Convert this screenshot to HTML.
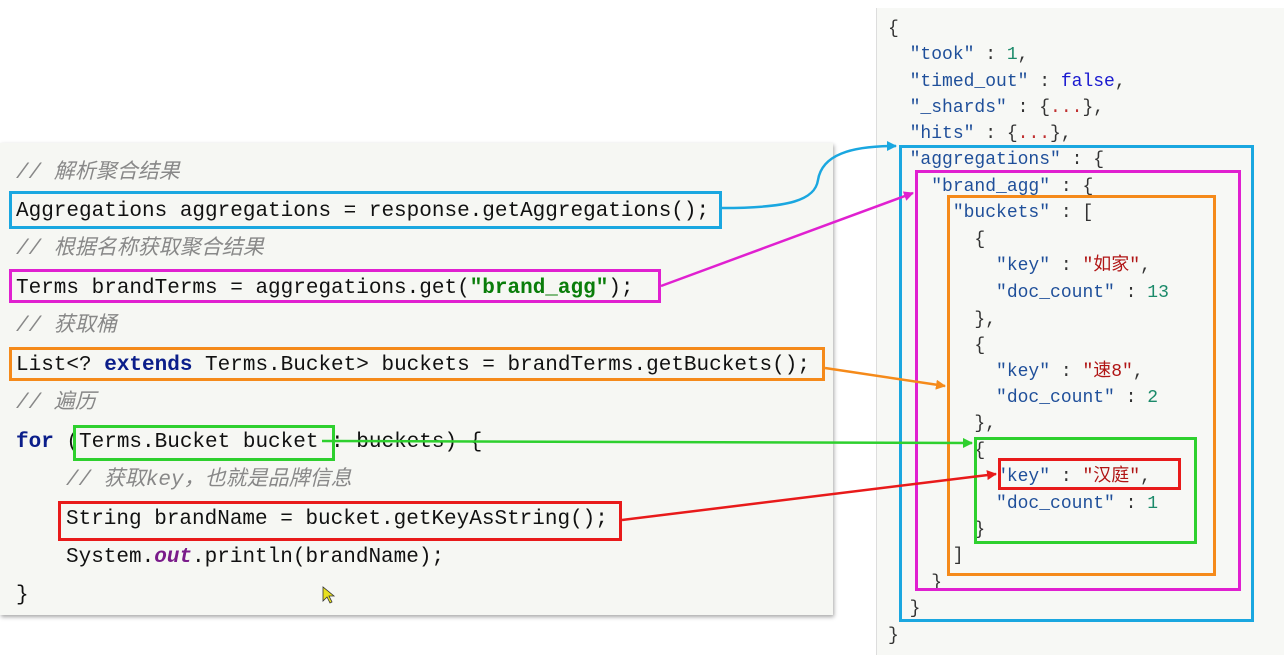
<!DOCTYPE html>
<html><head><meta charset="utf-8"><style>
body{margin:0;width:1284px;height:655px;background:#fff;position:relative;overflow:hidden;font-family:"Liberation Mono","Noto Sans CJK SC",monospace;}
#lp{position:absolute;left:0;top:143px;width:833px;height:472px;background:#f6f7f3;box-shadow:1px 2px 4px rgba(0,0,0,0.35);}
#rp{position:absolute;left:876px;top:8px;width:408px;height:647px;background:#f7f8f5;border-left:1px solid #ddd;}
.l{position:absolute;font-size:21px;white-space:pre;color:#111;line-height:24px;}
.c{color:#888;font-style:italic;font-family:"Liberation Mono","Noto Sans CJK SC",monospace;}
.k{color:#0b1e8a;font-weight:bold}
.s{color:#0a7d0a;font-weight:bold}
.o{color:#7a1b8a;font-weight:bold;font-style:italic}
.j{position:absolute;font-size:18px;white-space:pre;color:#333;line-height:22px;}
.q{color:#1f4f9a}.n{color:#1b8a6a}.b{color:#1a1ad0}.r{color:#b01515}.d{color:#c03030}
.bx{position:absolute;border:3px solid;box-sizing:border-box;}
</style></head><body>
<div id="lp"></div>
<div id="rp"></div>

<div class="l c" style="left:16px;top:162px">// 解析聚合结果</div>
<div class="l" style="left:16px;top:200px">Aggregations aggregations = response.getAggregations();</div>
<div class="l c" style="left:16px;top:238px">// 根据名称获取聚合结果</div>
<div class="l" style="left:16px;top:277px">Terms brandTerms = aggregations.get(<span class="s">"brand_agg"</span>);</div>
<div class="l c" style="left:16px;top:315px">// 获取桶</div>
<div class="l" style="left:16px;top:354px">List&lt;? <span class="k">extends</span> Terms.Bucket&gt; buckets = brandTerms.getBuckets();</div>
<div class="l c" style="left:16px;top:392px">// 遍历</div>
<div class="l" style="left:16px;top:431px"><span class="k">for</span> (Terms.Bucket bucket : buckets) {</div>
<div class="l c" style="left:66px;top:469px">// 获取key，也就是品牌信息</div>
<div class="l" style="left:66px;top:508px">String brandName = bucket.getKeyAsString();</div>
<div class="l" style="left:66px;top:546px">System.<span class="o">out</span>.println(brandName);</div>
<div class="l" style="left:16px;top:584px">}</div>

<div class="j" style="left:888px;top:18px">{</div>
<div class="j" style="left:888px;top:44px">  <span class="q">"took"</span> : <span class="n">1</span>,</div>
<div class="j" style="left:888px;top:71px">  <span class="q">"timed_out"</span> : <span class="b">false</span>,</div>
<div class="j" style="left:888px;top:97px">  <span class="q">"_shards"</span> : {<span class="d">...</span>},</div>
<div class="j" style="left:888px;top:123px">  <span class="q">"hits"</span> : {<span class="d">...</span>},</div>
<div class="j" style="left:888px;top:149px">  <span class="q">"aggregations"</span> : {</div>
<div class="j" style="left:888px;top:176px">    <span class="q">"brand_agg"</span> : {</div>
<div class="j" style="left:888px;top:202px">      <span class="q">"buckets"</span> : [</div>
<div class="j" style="left:888px;top:229px">        {</div>
<div class="j" style="left:888px;top:255px">          <span class="q">"key"</span> : <span class="r">"如家"</span>,</div>
<div class="j" style="left:888px;top:282px">          <span class="q">"doc_count"</span> : <span class="n">13</span></div>
<div class="j" style="left:888px;top:309px">        },</div>
<div class="j" style="left:888px;top:335px">        {</div>
<div class="j" style="left:888px;top:361px">          <span class="q">"key"</span> : <span class="r">"速8"</span>,</div>
<div class="j" style="left:888px;top:387px">          <span class="q">"doc_count"</span> : <span class="n">2</span></div>
<div class="j" style="left:888px;top:413px">        },</div>
<div class="j" style="left:888px;top:440px">        {</div>
<div class="j" style="left:888px;top:466px">          <span class="q">"key"</span> : <span class="r">"汉庭"</span>,</div>
<div class="j" style="left:888px;top:493px">          <span class="q">"doc_count"</span> : <span class="n">1</span></div>
<div class="j" style="left:888px;top:519px">        }</div>
<div class="j" style="left:888px;top:545px">      ]</div>
<div class="j" style="left:888px;top:572px">    }</div>
<div class="j" style="left:888px;top:598px">  }</div>
<div class="j" style="left:888px;top:625px">}</div>

<div class="bx" style="border-color:#1aa7e0;left:9px;top:191px;width:713px;height:38px"></div>
<div class="bx" style="border-color:#e020d0;left:9px;top:269px;width:652px;height:34px"></div>
<div class="bx" style="border-color:#f58a1a;left:9px;top:347px;width:816px;height:34px"></div>
<div class="bx" style="border-color:#2ed02e;left:73px;top:425px;width:262px;height:36px"></div>
<div class="bx" style="border-color:#e81a1a;left:58px;top:501px;width:564px;height:40px"></div>

<div class="bx" style="border-color:#1aa7e0;left:899px;top:145px;width:355px;height:477px"></div>
<div class="bx" style="border-color:#e020d0;left:915px;top:170px;width:326px;height:421px"></div>
<div class="bx" style="border-color:#f58a1a;left:947px;top:195px;width:269px;height:381px"></div>
<div class="bx" style="border-color:#2ed02e;left:974px;top:437px;width:223px;height:107px"></div>
<div class="bx" style="border-color:#e81a1a;left:998px;top:458px;width:183px;height:32px"></div>

<svg width="1284" height="655" style="position:absolute;left:0;top:0">
<defs>
<marker id="ab" markerWidth="10" markerHeight="10" refX="9" refY="5" orient="auto" markerUnits="userSpaceOnUse"><path d="M0,0L10,5L0,10z" fill="#1aa7e0"/></marker>
<marker id="am" markerWidth="10" markerHeight="10" refX="9" refY="5" orient="auto" markerUnits="userSpaceOnUse"><path d="M0,0L10,5L0,10z" fill="#e020d0"/></marker>
<marker id="ao" markerWidth="10" markerHeight="10" refX="9" refY="5" orient="auto" markerUnits="userSpaceOnUse"><path d="M0,0L10,5L0,10z" fill="#f58a1a"/></marker>
<marker id="ag" markerWidth="10" markerHeight="10" refX="9" refY="5" orient="auto" markerUnits="userSpaceOnUse"><path d="M0,0L10,5L0,10z" fill="#2ed02e"/></marker>
<marker id="ar" markerWidth="10" markerHeight="10" refX="9" refY="5" orient="auto" markerUnits="userSpaceOnUse"><path d="M0,0L10,5L0,10z" fill="#e81a1a"/></marker>
</defs>
<g fill="none" stroke-width="2.5">
<path d="M722,208 C790,208 815,200 818,180 C822,155 850,146 896,146" stroke="#1aa7e0" marker-end="url(#ab)"/>
<path d="M661,286 L913,193" stroke="#e020d0" marker-end="url(#am)"/>
<path d="M825,368 L945,386" stroke="#f58a1a" marker-end="url(#ao)"/>
<path d="M322,441 L972,443" stroke="#2ed02e" marker-end="url(#ag)"/>
<path d="M622,520 L996,474" stroke="#e81a1a" marker-end="url(#ar)"/>
</g>
<path d="M323,587 l0,14 l4,-4 l3,6 l2,-1 l-3,-6 l5,0z" fill="#e8e020" stroke="#333" stroke-width="0.8"/>
</svg>
</body></html>
